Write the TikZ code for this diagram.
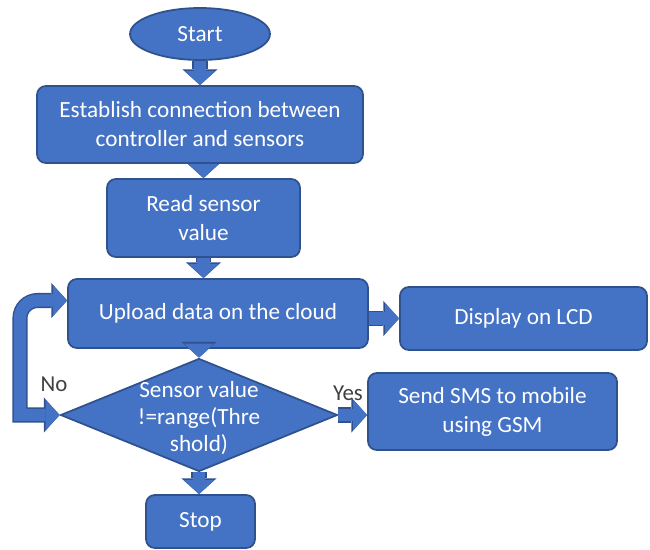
\documentclass[tikz,border=0pt]{standalone}
\usepackage{fontspec}
\setmainfont{Carlito}
\usetikzlibrary{shapes.geometric,arrows.meta}

\definecolor{boxblue}{HTML}{4472C4}
\definecolor{boxline}{HTML}{2F528F}
\definecolor{lbltext}{HTML}{404040}

\tikzset{
	box/.style={draw=boxline, line width=1pt, fill=boxblue, text=white, rounded corners=5pt,
		align=center, font=\fontsize{13.2}{16.5}\selectfont},
	oval/.style={box, ellipse, rounded corners=0pt},
	dec/.style={draw=boxline, line width=1pt, fill=boxblue, diamond, inner sep=0pt},
	dectext/.style={text=white, align=center, font=\fontsize{13.2}{15.5}\selectfont},
	lbl/.style={text=lbltext, font=\fontsize{13}{15}\selectfont},
	blk/.style={draw=boxblue, line width=7pt, -{Triangle[width=17pt,length=8pt,line width=0pt]},
		preaction={draw=boxline, line width=8.6pt, -{Triangle[width=20pt,length=9pt,line width=0pt]}}},
	blkloop/.style={draw=boxblue, line width=7pt,
		{Triangle[width=17pt,length=8pt,line width=0pt]}-{Triangle[width=17pt,length=8pt,line width=0pt]},
		preaction={draw=boxline, line width=8.6pt,
			{Triangle[width=20pt,length=9pt,line width=0pt]}-{Triangle[width=20pt,length=9pt,line width=0pt]}}}
}

\begin{document}
\begin{tikzpicture}[x=0.02cm, y=-0.02cm]
	\useasboundingbox (0,0) rectangle (650,549);

	\node[oval, minimum width=2.8cm, minimum height=1.04cm]	(start)	at (200,34)		{Start};
	\node[box, minimum width=6.52cm, minimum height=1.54cm]	(est)	at (200,124.5)	{Establish connection between\\controller and sensors};
	\node[box, minimum width=3.86cm, minimum height=1.56cm]	(read)	at (203.5,218)	{Read sensor\\value};
	\node[box, minimum width=6.0cm, minimum height=1.38cm]	(upload) at (218,313.5)	{Upload data on the cloud};
	\node[box, minimum width=4.94cm, minimum height=1.26cm]	(lcd)	at (523.5,318.5) {Display on LCD};
	\node[dec, minimum width=5.54cm, minimum height=2.26cm]	(check)	at (199,415)	{};
	\node[dectext]	(checktext)	at (199,418)	{Sensor value\\!=range(Thre\\shold)};
	\node[box, minimum width=4.98cm, minimum height=1.54cm]	(sms)	at (492.5,411.5) {Send SMS to mobile\\using GSM};
	\node[box, minimum width=2.18cm, minimum height=1.06cm]	(stop)	at (200.5,521.5) {Stop};

	\node[lbl]	(no)	at (54,384)		{No};
	\node[lbl]	(yes)	at (348,393)	{Yes};

	% main flow
	\draw[blk]	(start.south) -- (start.south |- est.north);
	\draw[blk]	(est.south -| read.north) -- (read.north);
	\draw[blk]	(read.south) -- (read.south |- upload.north);
	\draw[blk]	(upload.south -| check.north) -- (check.north);
	\draw[blk]	(check.south) -- (check.south |- stop.north);

	% side branches
	\draw[blk]	(upload.east |- lcd.west) -- (lcd.west);
	\draw[blk]	(check.east) -- (check.east -| sms.west);

	% back to upload when out of range
	\coordinate (loopcorner) at (20,415);
	\coordinate (upin) at ([yshift=0.26cm]upload.west);
	\draw[blkloop]	(check.west) -- (loopcorner) [rounded corners=10pt] |- (upin);
\end{tikzpicture}
\end{document}
